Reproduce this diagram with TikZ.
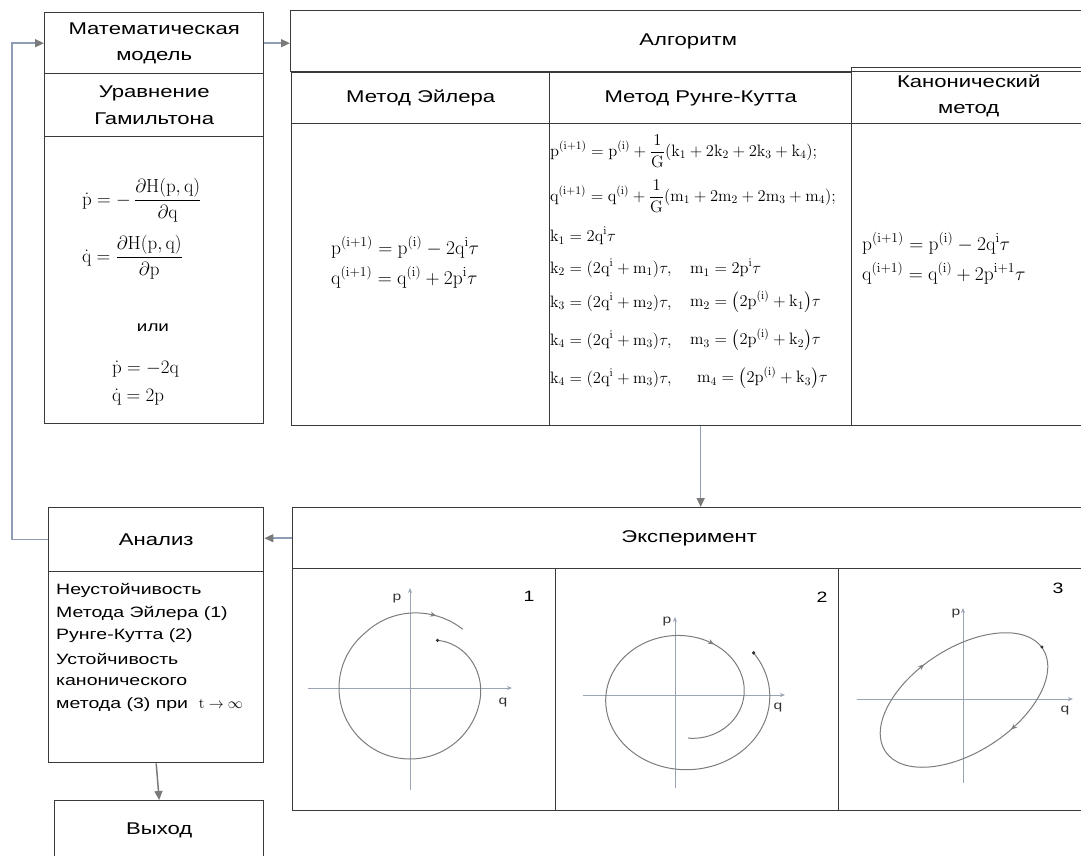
\RequirePackage{fix-cm}
\documentclass[tikz,border=0pt]{standalone}
\usepackage{amsmath}
\usepackage[no-math]{fontspec}
\setmainfont{Liberation Sans}[FakeStretch=1.3]
\usetikzlibrary{arrows.meta,decorations.markings}
\definecolor{boxc}{HTML}{3A3A3A}
\definecolor{connc}{HTML}{8E9DB5}
\definecolor{tipc}{HTML}{7A7A7A}
\definecolor{curvec}{HTML}{7C7C7C}
\definecolor{axisc}{HTML}{9AA4B4}
\newcommand\mx[1]{$\displaystyle #1$}
\begin{document}
\begin{tikzpicture}[x=1pt,y=-1pt,
  box/.style={draw=boxc, line width=1.4pt, inner sep=0pt, anchor=north west, align=center,
    font=\fontsize{17}{26.5}\selectfont},
  conn/.style={draw=connc, line width=1.5pt, -{Triangle[length=9pt,width=8pt,color=tipc]}},
  frm/.style={inner sep=0pt, anchor=west},
  hf/.style={frm, font=\fontsize{19}{20}\selectfont},
  ef/.style={frm, font=\fontsize{19.5}{22}\selectfont},
  rf/.style={frm, font=\fontsize{16.5}{18}\selectfont},
  atext/.style={inner sep=0pt, anchor=west, font=\fontsize{15}{17}\selectfont},
  axis/.style={draw=axisc, line width=0.9pt, -{Stealth[length=5pt,width=4pt]}},
  curve/.style={draw=curvec, line width=1pt},
  plab/.style={inner sep=0pt, font=\fontsize{12}{14}\selectfont, text=black!80},
  pnum/.style={inner sep=0pt, font=\fontsize{15}{17}\selectfont},
  declare function={
    ra(\s)=71-16*(max(0,1-\s/70))^2+8*max(0,\s-290)/82;
    sb(\s)=1-0.45*(\s/481)^2;
  }]
\useasboundingbox (0,0) rectangle (1081,856);
\begin{scope}
\clip (0,0) rectangle (1081,856);
% ---- left column
\node[box, minimum width=219pt, minimum height=61pt] (mm) at (44,12) {Математическая\\модель};
\node[box, minimum width=219pt, minimum height=63pt] (ham) at (44,73) {Уравнение\\Гамильтона};
\node[box, minimum width=219pt, minimum height=287pt] (hbody) at (44,136) {};
% ---- algorithm
\node[box, minimum width=795pt, minimum height=61pt] (alg) at (290,10) {Алгоритм};
\node[box, minimum width=258pt, minimum height=51pt] (eulh) at (291,72) {Метод Эйлера};
\node[box, minimum width=258pt, minimum height=302pt] (eulb) at (291,123) {};
\node[box, minimum width=302pt, minimum height=51pt] (rkh) at (549,72) {Метод Рунге-Кутта};
\node[box, minimum width=302pt, minimum height=302pt] (rkb) at (549,123) {};
\node[box, minimum width=234pt, minimum height=56pt] (canh) at (851,67) {Канонический\\метод};
\node[box, minimum width=234pt, minimum height=302pt] (canb) at (851,123) {};
% ---- experiment
\node[box, minimum width=793pt, minimum height=61pt] (exph) at (292,507) {Эксперимент};
\node[box, minimum width=263pt, minimum height=242pt] (ex1) at (292,568) {};
\node[box, minimum width=283pt, minimum height=242pt] (ex2) at (555,568) {};
\node[box, minimum width=247pt, minimum height=242pt] (ex3) at (838,568) {};
% ---- analysis
\node[box, minimum width=215pt, minimum height=64pt] (anh) at (48,507) {Анализ};
\node[box, minimum width=215pt, minimum height=191pt] (anb) at (48,571) {};
\node[box, minimum width=209pt, minimum height=60pt] (outb) at (54,800) {Выход};
\end{scope}

% ---- Hamilton formulas
\node[hf] (h1) at (82,200) {\mx{\dot{\mathrm p} = -\,\frac{\partial\mathrm{H(p,q)}}{\partial\mathrm q}}};
\node[hf] (h2) at (82,257) {\mx{\dot{\mathrm q} = \frac{\partial\mathrm{H(p,q)}}{\partial\mathrm p}}};
\node[inner sep=0pt, font=\fontsize{14.5}{16}\selectfont] (ili) at (153,328) {или};
\node[hf] (h3) at (112,369) {\mx{\dot{\mathrm p} = -2\mathrm q}};
\node[hf] (h4) at (112,397) {\mx{\dot{\mathrm q} = 2\mathrm p}};

% ---- Euler
\node[ef] (e1) at (331,247) {\mx{\mathrm{p^{(i+1)} = p^{(i)} - 2q^{i}}\tau}};
\node[ef] (e2) at (331,277) {\mx{\mathrm{q^{(i+1)} = q^{(i)} + 2p^{i}}\tau}};

% ---- Runge-Kutta
\node[rf] (r1) at (550,151) {\mx{\mathrm{p^{(i+1)} = p^{(i)} + \frac{1}{G}(k_1 + 2k_2 + 2k_3 + k_4);}}};
\node[rf] (r2) at (550,196) {\mx{\mathrm{q^{(i+1)} = q^{(i)} + \frac{1}{G}(m_1 + 2m_2 + 2m_3 + m_4);}}};
\node[rf] (r3) at (550,236) {\mx{\mathrm{k_1 = 2q^{i}}\tau}};
\node[rf] (r4) at (550,268) {\mx{\mathrm{k_2 = (2q^{i} + m_1)}\tau,}};
\node[rf] (r4b) at (690,268) {\mx{\mathrm{m_1 = 2p^{i}}\tau}};
\node[rf] (r5) at (550,302) {\mx{\mathrm{k_3 = (2q^{i} + m_2)}\tau,}};
\node[rf] (r5b) at (690,302) {\mx{\mathrm{m_2 = \left(2p^{(i)} + k_1\right)}\tau}};
\node[rf] (r6) at (550,340) {\mx{\mathrm{k_4 = (2q^{i} + m_3)}\tau,}};
\node[rf] (r6b) at (690,340) {\mx{\mathrm{m_3 = \left(2p^{(i)} + k_2\right)}\tau}};
\node[rf] (r7) at (550,378) {\mx{\mathrm{k_4 = (2q^{i} + m_3)}\tau,}};
\node[rf] (r7b) at (697,378) {\mx{\mathrm{m_4 = \left(2p^{(i)} + k_3\right)}\tau}};

% ---- Canonical
\node[ef] (c1) at (862,243) {\mx{\mathrm{p^{(i+1)} = p^{(i)} - 2q^{i}}\tau}};
\node[ef] (c2) at (862,273) {\mx{\mathrm{q^{(i+1)} = q^{(i)} + 2p^{i+1}}\tau}};

% ---- Analysis text
\node[atext] (t1) at (56,590) {Неустойчивость};
\node[atext] (t2) at (56,613) {Метода Эйлера (1)};
\node[atext] (t3) at (56,636) {Рунге-Кутта (2)};
\node[atext] (t4) at (56,659) {Устойчивость};
\node[atext] (t5) at (56,682) {канонического};
\node[atext] (t6) at (56,705) {метода (3) при\ \ $\mathrm{t}\to\infty$};

% ---- connectors
\draw[conn] (anh.west) -- ++(-36,0) |- (mm.west);
\draw[conn] (mm.east) -- (mm.east -| alg.west);
\draw[conn] (rkb.south) -- (rkb.south |- exph.north);
\draw[conn] (exph.west) -- (exph.west -| anh.east);
\draw[conn, draw=tipc] (anb.south) -- (outb.north);

% ---- plot 1
\draw[axis] (308,688) -- (512,688);
\draw[axis] (410,790) -- (410,588);
\node[plab] (p1) at (397,599) {p};
\node[plab] (q1) at (503,703) {q};
\node[pnum] (n1) at (529,596) {1};
\draw[curve, postaction={decorate}, decoration={markings, mark=at position 0.935 with {\arrow{Stealth[length=6pt,width=5pt]}}}]
  plot[domain=0:372, samples=80, smooth, variable=\x] ({410+ra(\x)*cos(60-\x)}, {688-ra(\x)*sin(60-\x)});
\fill[black!80] (437.5,640.4) circle (1.8pt);

% ---- plot 2
\draw[axis] (583,695) -- (785,695);
\draw[axis] (675,788) -- (675,617);
\node[plab] (p2) at (667,622) {p};
\node[plab] (q2) at (778,708) {q};
\node[pnum] (n2) at (822,597) {2};
\draw[curve, postaction={decorate}, decoration={markings, mark=at position 0.755 with {\arrow{Stealth[length=6pt,width=5pt]}}}]
  plot[domain=0:481, samples=100, smooth, variable=\x] ({684+86*sb(\x)*cos(36-\x)}, {697-75*sb(\x)*sin(36-\x)});
\fill[black!80] (753.6,652.9) circle (1.8pt);

% ---- plot 3
\draw[axis] (857,699) -- (1073,699);
\draw[axis] (963,783) -- (963,608);
\node[plab] (p3) at (956,614) {p};
\node[plab] (q3) at (1065,711) {q};
\node[pnum] (n3) at (1058,588) {3};
\draw[curve, rotate around={33:(964,700)}, postaction={decorate}, decoration={markings,
    mark=at position 0.28 with {\arrowreversed{Stealth[length=6pt,width=5pt]}},
    mark=at position 0.80 with {\arrowreversed{Stealth[length=6pt,width=5pt]}}}]
  (964,700) ellipse [x radius=94pt, y radius=52pt];
\fill[black!80] (1042,647) circle (1.6pt);
\end{tikzpicture}
\end{document}
